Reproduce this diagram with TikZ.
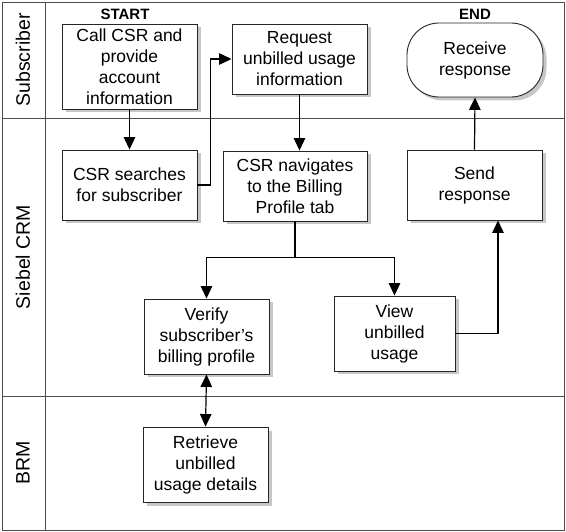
\documentclass[tikz,border=0pt]{standalone}
\usepackage{fontspec}
\setmainfont{Liberation Sans}
\usetikzlibrary{arrows.meta,shadows}

\begin{document}
\begin{tikzpicture}[x=1pt,y=-1pt,
        lane/.style={draw=black!70,line width=0.9pt},
        lanelabel/.style={rotate=90,font=\fontsize{19.5}{22}\selectfont},
        stepbox/.style={draw=black!85,fill=white,line width=0.9pt,align=center,inner sep=0pt,
            font=\fontsize{17.5}{21}\selectfont,
            drop shadow={shadow xshift=3.5pt,shadow yshift=-3.5pt,fill=black!22,opacity=1}},
        endbox/.style={stepbox,rounded corners=32pt},
        tag/.style={font=\bfseries\fontsize{15}{17}\selectfont},
        flow/.style={line width=1.2pt,-{Triangle[length=12.5pt,width=11.5pt]}},
        twoway/.style={line width=1.2pt,{Triangle[length=12.5pt,width=11.5pt]}-{Triangle[length=12.5pt,width=11.5pt]}}]
        \useasboundingbox (0,0) rectangle (566,532);

        % swim lanes
        \draw[lane] (2,2) rectangle (564,530);
        \draw[lane] (45,2) -- (45,530);
        \draw[lane] (2,118) -- (564,118);
        \draw[lane] (2,396) -- (564,396);
        \node[lanelabel] (lsub) at (23,60) {Subscriber};
        \node[lanelabel] (lcrm) at (23,257) {Siebel CRM};
        \node[lanelabel] (lbrm) at (23,463) {BRM};

        % steps
        \node[stepbox,minimum width=135,minimum height=85] (call) at (129.5,66.5) {Call CSR and\\provide\\account\\information};
        \node[stepbox,minimum width=135,minimum height=70] (search) at (129.5,185) {CSR searches\\for subscriber};
        \node[stepbox,minimum width=135,minimum height=70] (req) at (299.5,59) {Request\\unbilled usage\\information};
        \node[stepbox,minimum width=144,minimum height=70] (nav) at (295,186) {CSR navigates\\to the Billing\\Profile tab};
        \node[stepbox,minimum width=125,minimum height=75] (verify) at (206.5,336.5) {Verify\\subscriber’s\\billing profile};
        \node[stepbox,minimum width=121,minimum height=75] (view) at (394.5,333.5) {View\\unbilled\\usage};
        \node[stepbox,minimum width=125,minimum height=75] (retrieve) at (205.5,464.5) {Retrieve\\unbilled\\usage details};
        \node[stepbox,minimum width=135,minimum height=70] (send) at (474.5,185) {Send\\response};
        \node[endbox,minimum width=136,minimum height=74] (recv) at (475,60) {Receive\\response};

        \node[tag] (start) at (125,14) {START};
        \node[tag] (end) at (475,14) {END};

        % connectors
        \draw[flow] (call.south) -- (search.north);
        \draw[flow] (search.east) -- ++(13,0) |- (req.west);
        \draw[flow] (req.south) -- (req.south |- nav.north);
        \coordinate (split) at ([yshift=-36pt]nav.south);
        \draw[line width=1.2pt] (nav.south) -- (split);
        \draw[flow] (split) -| (verify.north);
        \draw[flow] (split) -| (view.north);
        \draw[flow] (view.east) -| ([xshift=23.5pt]send.south);
        \draw[flow] (send.north) -- (recv.south);
        \draw[twoway] (verify.south) -- (retrieve.north);
    \end{tikzpicture}
\end{document}
